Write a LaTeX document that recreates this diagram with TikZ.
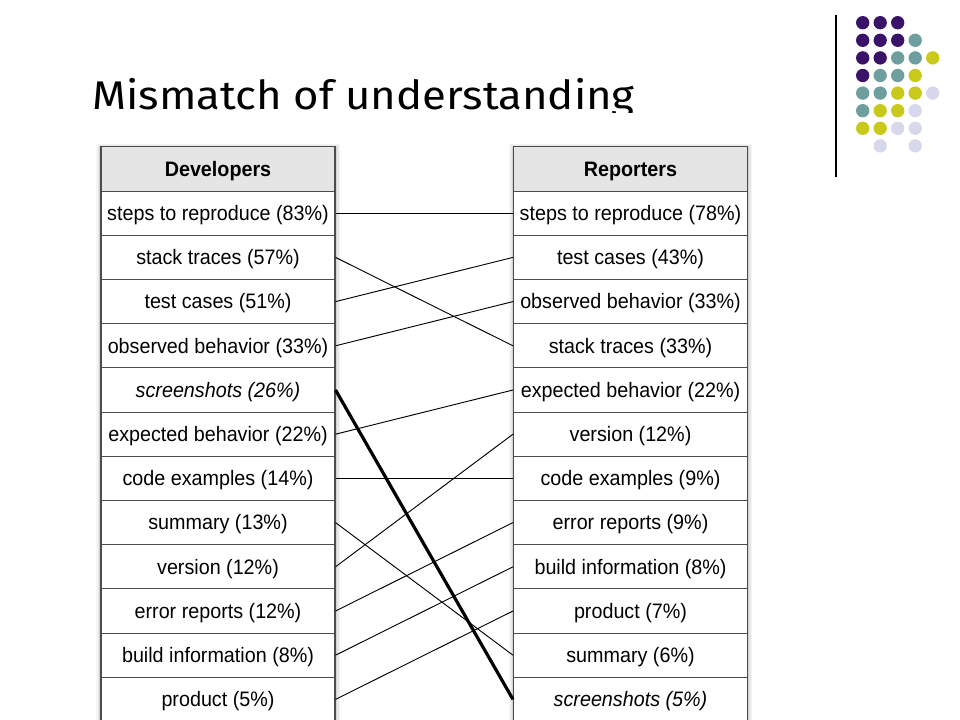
\documentclass[tikz,border=0pt]{standalone}
\usepackage{fontspec}
\setmainfont{Liberation Sans}
\newfontfamily\titlefont{Fira Sans}
\newcommand{\vstr}[1]{\scalebox{1}[1.06]{#1}}
\begin{document}
\begin{tikzpicture}[x=0.75pt,y=-0.75pt,
  cell/.style={draw=black!70,line width=0.8pt,fill=white,minimum width=175.5pt,minimum height=33.15pt,inner sep=0pt,text height=14pt,text depth=3pt,font=\fontsize{14.8pt}{16pt}\selectfont},
  head/.style={cell,fill=black!10,font=\fontsize{14.8pt}{16pt}\selectfont\bfseries},
  link/.style={line width=0.7pt,black},
  thick link/.style={line width=2.4pt,black},
  dotP/.style={fill=purpleD},dotT/.style={fill=tealD},dotY/.style={fill=yellowD},dotL/.style={fill=lavD}]
\definecolor{purpleD}{HTML}{3A1268}
\definecolor{tealD}{HTML}{6E9E9E}
\definecolor{yellowD}{HTML}{C9C91C}
\definecolor{lavD}{HTML}{D8D8EC}
\useasboundingbox (0,0) rectangle (960,720);
\fill[white] (0,0) rectangle (960,720);
\clip (0,0) rectangle (960,720);
% title
\begin{scope}
\clip (0,0) rectangle (960,113);
\node[anchor=base west,inner sep=0pt,xscale=1.093,font=\titlefont\fontsize{30pt}{32pt}\selectfont] (title) at (92,110) {Mismatch of understanding};
\end{scope}
% decoration
\draw[line width=1.1pt] (836,15) -- (836,177);
\foreach \c/\cx/\cy in {P/1/1,P/2/1,P/3/1,
  P/1/2,P/2/2,P/3/2,T/4/2,
  P/1/3,P/2/3,T/3/3,T/4/3,Y/5/3,
  P/1/4,T/2/4,T/3/4,Y/4/4,
  T/1/5,T/2/5,Y/3/5,Y/4/5,L/5/5,
  T/1/6,Y/2/6,Y/3/6,L/4/6,
  Y/1/7,Y/2/7,L/3/7,L/4/7,
  L/2/8,L/4/8}{
  \fill[dot\c] ({862.7+(\cx-1)*17.5},{22.7+(\cy-1)*17.6}) circle[radius=5pt];
}
% shadows
\foreach \xa/\xb in {101/335,514/747}{
  \foreach \k/\o in {5/0.04,3.5/0.06,2/0.08}{
    \fill[black,opacity=\o] (\xa-\k,147-\k+2) rectangle (\xb+\k,730);
  }
}
% left table
\node[head] (d0) at (218,169) {\vstr{Developers}};
\node[cell] (d1) at (218,213.2) {\vstr{steps to reproduce (83\%)}};
\node[cell] (d2) at (218,257.4) {\vstr{stack traces (57\%)}};
\node[cell] (d3) at (218,301.6) {\vstr{test cases (51\%)}};
\node[cell] (d4) at (218,345.8) {\vstr{observed behavior (33\%)}};
\node[cell] (d5) at (218,390.0) {\vstr{\itshape screenshots (26\%)}};
\node[cell] (d6) at (218,434.2) {\vstr{expected behavior (22\%)}};
\node[cell] (d7) at (218,478.4) {\vstr{code examples (14\%)}};
\node[cell] (d8) at (218,522.6) {\vstr{summary (13\%)}};
\node[cell] (d9) at (218,566.8) {\vstr{version (12\%)}};
\node[cell] (d10) at (218,611.0) {\vstr{error reports (12\%)}};
\node[cell] (d11) at (218,655.2) {\vstr{build information (8\%)}};
\node[cell] (d12) at (218,699.4) {\vstr{product (5\%)}};
% right table
\node[head] (r0) at (630.5,169) {\vstr{Reporters}};
\node[cell] (r1) at (630.5,213.2) {\vstr{steps to reproduce (78\%)}};
\node[cell] (r2) at (630.5,257.4) {\vstr{test cases (43\%)}};
\node[cell] (r3) at (630.5,301.6) {\vstr{observed behavior (33\%)}};
\node[cell] (r4) at (630.5,345.8) {\vstr{stack traces (33\%)}};
\node[cell] (r5) at (630.5,390.0) {\vstr{expected behavior (22\%)}};
\node[cell] (r6) at (630.5,434.2) {\vstr{version (12\%)}};
\node[cell] (r7) at (630.5,478.4) {\vstr{code examples (9\%)}};
\node[cell] (r8) at (630.5,522.6) {\vstr{error reports (9\%)}};
\node[cell] (r9) at (630.5,566.8) {\vstr{build information (8\%)}};
\node[cell] (r10) at (630.5,611.0) {\vstr{product (7\%)}};
\node[cell] (r11) at (630.5,655.2) {\vstr{summary (6\%)}};
\node[cell] (r12) at (630.5,699.4) {\vstr{\itshape screenshots (5\%)}};
% links
\draw[link] (d1.east) -- (r1.west);
\draw[link] (d2.east) -- (r4.west);
\draw[link] (d3.east) -- (r2.west);
\draw[link] (d4.east) -- (r3.west);
\draw[link] (d6.east) -- (r5.west);
\draw[link] (d7.east) -- (r7.west);
\draw[link] (d8.east) -- (r11.west);
\draw[link] (d9.east) -- (r6.west);
\draw[link] (d10.east) -- (r8.west);
\draw[link] (d11.east) -- (r9.west);
\draw[link] (d12.east) -- (r10.west);
\draw[thick link] (d5.east) -- (r12.west);
\end{tikzpicture}
\end{document}
